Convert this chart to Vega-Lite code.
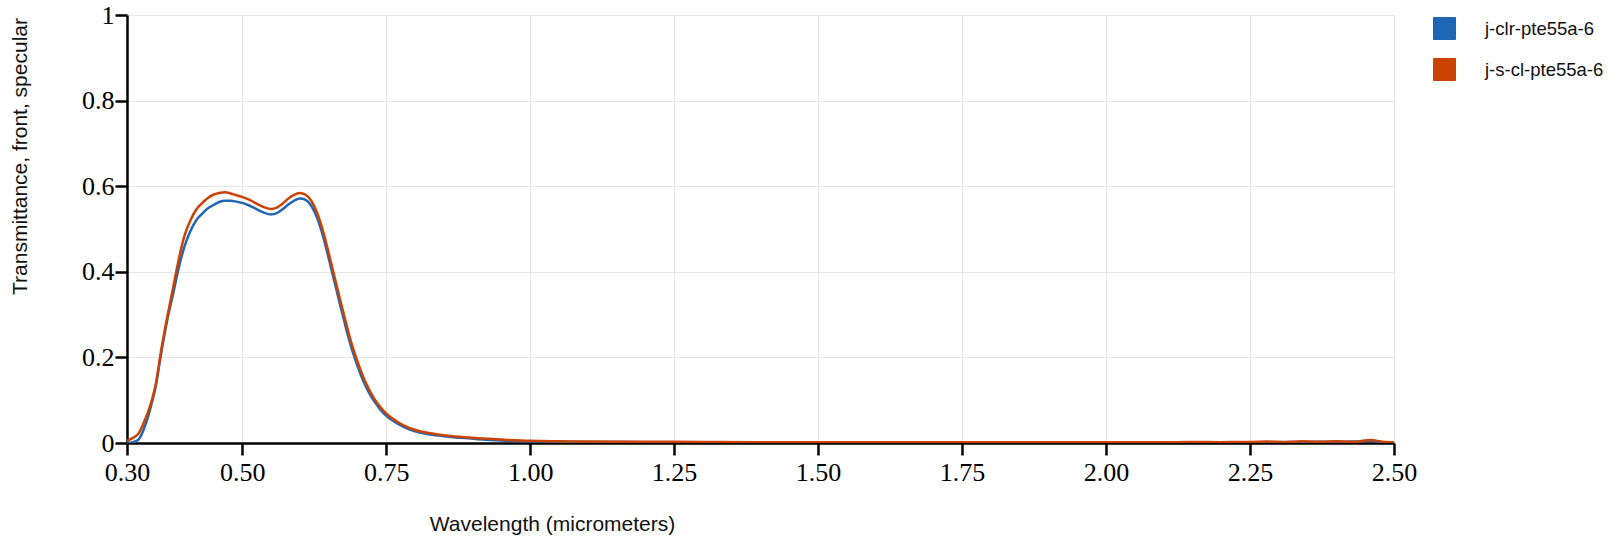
{
  "$schema": "https://vega.github.io/schema/vega-lite/v6.json",
  "width": 1267,
  "height": 428,
  "autosize": {"type": "none"},
  "padding": {"left": 127, "top": 15, "right": 214, "bottom": 97},
  "background": "white",
  "data": {
    "values": [
      {"w": 0.30, "j-clr-pte55a-6": 0.000, "j-s-cl-pte55a-6": 0.005},
      {"w": 0.31, "j-clr-pte55a-6": 0.002, "j-s-cl-pte55a-6": 0.012},
      {"w": 0.32, "j-clr-pte55a-6": 0.008, "j-s-cl-pte55a-6": 0.022},
      {"w": 0.33, "j-clr-pte55a-6": 0.035, "j-s-cl-pte55a-6": 0.050},
      {"w": 0.34, "j-clr-pte55a-6": 0.078, "j-s-cl-pte55a-6": 0.086},
      {"w": 0.35, "j-clr-pte55a-6": 0.133, "j-s-cl-pte55a-6": 0.138},
      {"w": 0.36, "j-clr-pte55a-6": 0.215, "j-s-cl-pte55a-6": 0.222},
      {"w": 0.37, "j-clr-pte55a-6": 0.288, "j-s-cl-pte55a-6": 0.295},
      {"w": 0.38, "j-clr-pte55a-6": 0.348, "j-s-cl-pte55a-6": 0.362},
      {"w": 0.39, "j-clr-pte55a-6": 0.410, "j-s-cl-pte55a-6": 0.430},
      {"w": 0.40, "j-clr-pte55a-6": 0.460, "j-s-cl-pte55a-6": 0.485},
      {"w": 0.41, "j-clr-pte55a-6": 0.495, "j-s-cl-pte55a-6": 0.520},
      {"w": 0.42, "j-clr-pte55a-6": 0.520, "j-s-cl-pte55a-6": 0.545},
      {"w": 0.43, "j-clr-pte55a-6": 0.535, "j-s-cl-pte55a-6": 0.560},
      {"w": 0.44, "j-clr-pte55a-6": 0.548, "j-s-cl-pte55a-6": 0.572},
      {"w": 0.45, "j-clr-pte55a-6": 0.556, "j-s-cl-pte55a-6": 0.580},
      {"w": 0.46, "j-clr-pte55a-6": 0.563, "j-s-cl-pte55a-6": 0.584},
      {"w": 0.47, "j-clr-pte55a-6": 0.566, "j-s-cl-pte55a-6": 0.586},
      {"w": 0.48, "j-clr-pte55a-6": 0.566, "j-s-cl-pte55a-6": 0.583},
      {"w": 0.49, "j-clr-pte55a-6": 0.564, "j-s-cl-pte55a-6": 0.579},
      {"w": 0.50, "j-clr-pte55a-6": 0.561, "j-s-cl-pte55a-6": 0.575},
      {"w": 0.51, "j-clr-pte55a-6": 0.556, "j-s-cl-pte55a-6": 0.570},
      {"w": 0.52, "j-clr-pte55a-6": 0.550, "j-s-cl-pte55a-6": 0.563},
      {"w": 0.53, "j-clr-pte55a-6": 0.543, "j-s-cl-pte55a-6": 0.556},
      {"w": 0.54, "j-clr-pte55a-6": 0.537, "j-s-cl-pte55a-6": 0.550},
      {"w": 0.55, "j-clr-pte55a-6": 0.534, "j-s-cl-pte55a-6": 0.547},
      {"w": 0.56, "j-clr-pte55a-6": 0.537, "j-s-cl-pte55a-6": 0.550},
      {"w": 0.57, "j-clr-pte55a-6": 0.546, "j-s-cl-pte55a-6": 0.559},
      {"w": 0.58, "j-clr-pte55a-6": 0.557, "j-s-cl-pte55a-6": 0.571},
      {"w": 0.59, "j-clr-pte55a-6": 0.566, "j-s-cl-pte55a-6": 0.580},
      {"w": 0.60, "j-clr-pte55a-6": 0.571, "j-s-cl-pte55a-6": 0.584},
      {"w": 0.61, "j-clr-pte55a-6": 0.568, "j-s-cl-pte55a-6": 0.580},
      {"w": 0.62, "j-clr-pte55a-6": 0.554, "j-s-cl-pte55a-6": 0.566},
      {"w": 0.63, "j-clr-pte55a-6": 0.526, "j-s-cl-pte55a-6": 0.538},
      {"w": 0.64, "j-clr-pte55a-6": 0.485, "j-s-cl-pte55a-6": 0.497},
      {"w": 0.65, "j-clr-pte55a-6": 0.433, "j-s-cl-pte55a-6": 0.445},
      {"w": 0.66, "j-clr-pte55a-6": 0.378, "j-s-cl-pte55a-6": 0.390},
      {"w": 0.67, "j-clr-pte55a-6": 0.323, "j-s-cl-pte55a-6": 0.335},
      {"w": 0.68, "j-clr-pte55a-6": 0.270, "j-s-cl-pte55a-6": 0.282},
      {"w": 0.69, "j-clr-pte55a-6": 0.221, "j-s-cl-pte55a-6": 0.232},
      {"w": 0.70, "j-clr-pte55a-6": 0.181, "j-s-cl-pte55a-6": 0.191},
      {"w": 0.71, "j-clr-pte55a-6": 0.146, "j-s-cl-pte55a-6": 0.155},
      {"w": 0.72, "j-clr-pte55a-6": 0.118, "j-s-cl-pte55a-6": 0.126},
      {"w": 0.73, "j-clr-pte55a-6": 0.096, "j-s-cl-pte55a-6": 0.102},
      {"w": 0.74, "j-clr-pte55a-6": 0.078, "j-s-cl-pte55a-6": 0.084},
      {"w": 0.75, "j-clr-pte55a-6": 0.064, "j-s-cl-pte55a-6": 0.069},
      {"w": 0.77, "j-clr-pte55a-6": 0.045, "j-s-cl-pte55a-6": 0.049},
      {"w": 0.79, "j-clr-pte55a-6": 0.032, "j-s-cl-pte55a-6": 0.035},
      {"w": 0.81, "j-clr-pte55a-6": 0.024, "j-s-cl-pte55a-6": 0.027},
      {"w": 0.83, "j-clr-pte55a-6": 0.019, "j-s-cl-pte55a-6": 0.022},
      {"w": 0.85, "j-clr-pte55a-6": 0.016, "j-s-cl-pte55a-6": 0.018},
      {"w": 0.88, "j-clr-pte55a-6": 0.012, "j-s-cl-pte55a-6": 0.014},
      {"w": 0.91, "j-clr-pte55a-6": 0.009, "j-s-cl-pte55a-6": 0.011},
      {"w": 0.95, "j-clr-pte55a-6": 0.006, "j-s-cl-pte55a-6": 0.008},
      {"w": 1.00, "j-clr-pte55a-6": 0.004, "j-s-cl-pte55a-6": 0.005},
      {"w": 1.05, "j-clr-pte55a-6": 0.003, "j-s-cl-pte55a-6": 0.004},
      {"w": 1.10, "j-clr-pte55a-6": 0.0025, "j-s-cl-pte55a-6": 0.0035},
      {"w": 1.20, "j-clr-pte55a-6": 0.002, "j-s-cl-pte55a-6": 0.003},
      {"w": 1.30, "j-clr-pte55a-6": 0.0015, "j-s-cl-pte55a-6": 0.0025},
      {"w": 1.40, "j-clr-pte55a-6": 0.0012, "j-s-cl-pte55a-6": 0.002},
      {"w": 1.50, "j-clr-pte55a-6": 0.001, "j-s-cl-pte55a-6": 0.0018},
      {"w": 1.60, "j-clr-pte55a-6": 0.001, "j-s-cl-pte55a-6": 0.0017},
      {"w": 1.70, "j-clr-pte55a-6": 0.001, "j-s-cl-pte55a-6": 0.0016},
      {"w": 1.80, "j-clr-pte55a-6": 0.001, "j-s-cl-pte55a-6": 0.0015},
      {"w": 1.90, "j-clr-pte55a-6": 0.0012, "j-s-cl-pte55a-6": 0.0016},
      {"w": 2.00, "j-clr-pte55a-6": 0.0012, "j-s-cl-pte55a-6": 0.0015},
      {"w": 2.05, "j-clr-pte55a-6": 0.0015, "j-s-cl-pte55a-6": 0.002},
      {"w": 2.10, "j-clr-pte55a-6": 0.0012, "j-s-cl-pte55a-6": 0.0018},
      {"w": 2.15, "j-clr-pte55a-6": 0.0018, "j-s-cl-pte55a-6": 0.0022},
      {"w": 2.20, "j-clr-pte55a-6": 0.0015, "j-s-cl-pte55a-6": 0.002},
      {"w": 2.25, "j-clr-pte55a-6": 0.002, "j-s-cl-pte55a-6": 0.0025},
      {"w": 2.28, "j-clr-pte55a-6": 0.0015, "j-s-cl-pte55a-6": 0.0035},
      {"w": 2.31, "j-clr-pte55a-6": 0.0025, "j-s-cl-pte55a-6": 0.002},
      {"w": 2.34, "j-clr-pte55a-6": 0.002, "j-s-cl-pte55a-6": 0.004},
      {"w": 2.37, "j-clr-pte55a-6": 0.003, "j-s-cl-pte55a-6": 0.003},
      {"w": 2.40, "j-clr-pte55a-6": 0.002, "j-s-cl-pte55a-6": 0.004},
      {"w": 2.43, "j-clr-pte55a-6": 0.0035, "j-s-cl-pte55a-6": 0.0025},
      {"w": 2.46, "j-clr-pte55a-6": 0.005, "j-s-cl-pte55a-6": 0.007},
      {"w": 2.48, "j-clr-pte55a-6": 0.002, "j-s-cl-pte55a-6": 0.003},
      {"w": 2.50, "j-clr-pte55a-6": 0.001, "j-s-cl-pte55a-6": 0.002}
    ]
  },
  "transform": [
    {"fold": ["j-clr-pte55a-6", "j-s-cl-pte55a-6"], "as": ["series", "t"]}
  ],
  "mark": {"type": "line", "strokeWidth": 2.5, "interpolate": "monotone", "clip": true},
  "encoding": {
    "x": {
      "field": "w",
      "type": "quantitative",
      "scale": {"domain": [0.3, 2.5], "nice": false, "zero": false},
      "axis": {
        "title": "Wavelength (micrometers)",
        "values": [0.3, 0.5, 0.75, 1.0, 1.25, 1.5, 1.75, 2.0, 2.25, 2.5],
        "format": ".2f",
        "domainColor": "black",
        "domainWidth": 2.5,
        "tickColor": "black",
        "tickWidth": 2.5,
        "tickSize": 12,
        "labelFont": "Liberation Serif",
        "labelFontSize": 26,
        "labelColor": "black",
        "labelPadding": 4,
        "labelFlush": false,
        "titleFont": "Liberation Sans",
        "titleFontSize": 21,
        "titleFontWeight": "normal",
        "titleColor": "#111",
        "gridColor": "#e6e6e6",
        "gridWidth": 1,
        "titleX": 425,
        "titleY": 81,
        "titleAnchor": null,
        "titleAlign": "center",
        "titleBaseline": "middle"
      }
    },
    "y": {
      "field": "t",
      "type": "quantitative",
      "scale": {"domain": [0, 1], "nice": false},
      "axis": {
        "title": "Transmittance, front, specular",
        "values": [0, 0.2, 0.4, 0.6, 0.8, 1],
        "format": "~g",
        "domainColor": "black",
        "domainWidth": 2.5,
        "tickColor": "black",
        "tickWidth": 2.5,
        "tickSize": 12,
        "labelFont": "Liberation Serif",
        "labelFontSize": 26,
        "labelColor": "black",
        "labelPadding": 1,
        "labelFlush": false,
        "titleFont": "Liberation Sans",
        "titleFontSize": 21,
        "titleFontWeight": "normal",
        "titleColor": "#111",
        "gridColor": "#e6e6e6",
        "gridWidth": 1,
        "titleX": -107,
        "titleY": 141,
        "titleAnchor": null,
        "titleAlign": "center",
        "titleBaseline": "middle",
        "titleAngle": -90
      }
    },
    "color": {
      "field": "series",
      "type": "nominal",
      "scale": {"domain": ["j-clr-pte55a-6", "j-s-cl-pte55a-6"], "range": ["#1f66b5", "#cc4202"]},
      "legend": {
        "title": null,
        "orient": "none",
        "legendX": 1306,
        "legendY": 2,
        "symbolType": "square",
        "symbolSize": 484,
        "symbolStrokeWidth": 1,
        "labelFont": "Liberation Sans",
        "labelFontSize": 18.5,
        "labelColor": "#111",
        "labelOffset": 29,
        "rowPadding": 14,
        "encode": {
          "symbols": {
            "update": {
              "fill": {"scale": "color", "field": "value"},
              "stroke": {"value": "#222"},
              "strokeWidth": {"value": 1},
              "opacity": {"value": 1}
            }
          }
        }
      }
    }
  },
  "config": {
    "view": {"stroke": null}
  }
}
